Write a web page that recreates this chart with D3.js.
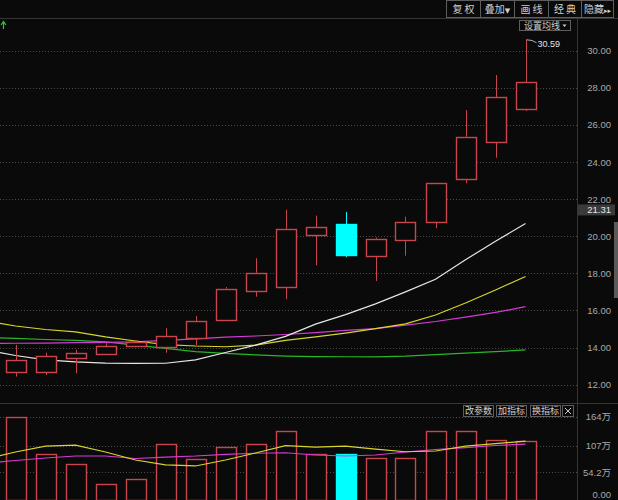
<!DOCTYPE html>
<html>
<head>
<meta charset="utf-8">
<script src="https://cdn.jsdelivr.net/npm/d3@7"></script>
<style>
  html, body { margin: 0; padding: 0; background: #0a0a0a; }
  svg { display: block; }
</style>
</head>
<body>
<svg id="chart" width="618" height="500"></svg>
<script>
// ---- data -------------------------------------------------------------
const sessions = [1, 2, 3, 4, 5, 6, 7, 8, 9, 10, 11, 12, 13, 14, 15, 16, 17, 18];
const openP  = [12.66, 12.66, 13.45, 13.63, 14.08, 14.01, 14.50, 15.48, 17.06, 17.28, 20.08, 20.66, 18.95, 19.81, 20.78, 23.08, 25.06, 26.87];
const highP  = [14.14, 13.72, 13.87, 14.23, 14.40, 15.04, 15.70, 17.26, 18.81, 21.42, 21.11, 21.31, 19.94, 21.05, 22.85, 26.80, 28.69, 30.59];
const lowP   = [12.43, 12.52, 12.61, 13.63, 14.03, 13.72, 14.13, 15.48, 16.74, 16.60, 18.43, 18.86, 17.58, 18.95, 20.43, 22.85, 24.23, 26.75];
const closeP = [13.33, 13.54, 13.69, 14.08, 14.28, 14.62, 15.43, 17.17, 18.03, 20.40, 20.48, 18.99, 19.87, 20.75, 22.85, 25.36, 27.49, 28.30];
const volume = [164, 90, 71.5, 31, 42, 111, 80, 105, 110, 136, 90, 90, 82, 82, 136, 136, 117.5, 116]; // 万

// moving averages include the session before the first candle (session 0)
const maSessions = [0, 1, 2, 3, 4, 5, 6, 7, 8, 9, 10, 11, 12, 13, 14, 15, 16, 17, 18];
const ma5  = [13.87, 13.57, 13.33, 13.22, 13.16, 13.14, 13.15, 13.33, 13.73, 14.13, 14.60, 15.26, 15.77, 16.35, 17.00, 17.68, 18.73, 19.73, 20.68];
const ma10 = [15.43, 15.16, 14.97, 14.84, 14.57, 14.35, 14.16, 14.08, 14.04, 14.13, 14.38, 14.57, 14.78, 15.02, 15.27, 15.75, 16.40, 17.10, 17.83];
const ma20 = [14.22, 14.23, 14.24, 14.26, 14.28, 14.30, 14.38, 14.46, 14.56, 14.62, 14.70, 14.80, 14.92, 15.02, 15.21, 15.40, 15.64, 15.89, 16.20];
const ma60 = [14.54, 14.49, 14.43, 14.38, 14.30, 14.13, 13.95, 13.78, 13.68, 13.60, 13.54, 13.51, 13.50, 13.50, 13.54, 13.62, 13.70, 13.78, 13.87];
const volMa5  = [81, 94.5, 106, 108, 94.5, 78.7, 69, 67, 78.7, 92.5, 107, 104, 106, 100, 95, 96.5, 106, 111, 116];
const volMa10 = [72.8, 77.8, 82.7, 86.6, 86.6, 81.7, 84.6, 86.6, 90, 92, 93, 88.6, 86.6, 88.6, 94.5, 99.4, 103.3, 107.3, 110.2];

const priceTicks = [12, 14, 16, 18, 20, 22, 24, 26, 28, 30];
const volTicks = [0, 54.2, 107, 164];
const volTickLabels = ["0.00", "54.2万", "107万", "164万"];
const toolbarLabels = [["复 权", ""], ["叠加", "▼"], ["画 线", ""], ["经 典", ""], ["隐藏", "▸▸"]];
const indicatorLabels = ["改参数", "加指标", "换指标"];
const maLabel = "设置均线";
const currentPrice = 21.31;

// ---- layout -----------------------------------------------------------
const W = 618, H = 500;
const plotRight = 577;
const mainTop = 18, mainBottom = 403;
const volTop = 404, volBottom = 500;

const C = {
  bg: "#0a0a0a",
  frame: "#353535",
  grid: "#4a4a4a",
  axisText: "#a9a9a9",
  up: "#c8464b",
  down: "#00ffff",
  ma5: "#e6e6e6",
  ma10: "#d6d62a",
  ma20: "#d63ad6",
  ma60: "#26b826",
  btnBorder: "#5e5e5e",
  btnText: "#cfcfcf"
};

const svg = d3.select("#chart");
svg.append("rect").attr("width", W).attr("height", H).attr("fill", C.bg);

const x = d3.scaleLinear().domain([1, 18]).range([15.5, 525.5]);
const candleW = 20;
const y = d3.scaleLinear().domain([12, 30]).range([384.6, 50.7]);
const yv = d3.scaleLinear().domain([0, 164]).range([500, 416.7]);

const defs = svg.append("defs");
defs.append("clipPath").attr("id", "clipMain")
  .append("rect").attr("x", 0).attr("y", mainTop).attr("width", plotRight).attr("height", mainBottom - mainTop);
defs.append("clipPath").attr("id", "clipVol")
  .append("rect").attr("x", 0).attr("y", volTop).attr("width", plotRight).attr("height", volBottom - volTop);

const crisp = v => Math.round(v) + 0.5;
const fmt2 = d3.format(".2f");

// ---- frame lines -------------------------------------------------------
svg.append("line").attr("x1", 0).attr("x2", W).attr("y1", mainTop + 0.5).attr("y2", mainTop + 0.5)
  .attr("stroke", C.frame);
svg.append("line").attr("x1", 0).attr("x2", W).attr("y1", mainBottom + 0.5).attr("y2", mainBottom + 0.5)
  .attr("stroke", C.frame);
svg.append("line").attr("x1", plotRight + 0.5).attr("x2", plotRight + 0.5).attr("y1", mainTop).attr("y2", H)
  .attr("stroke", C.frame);

// ---- price gridlines ---------------------------------------------------
svg.append("g").selectAll("line").data(priceTicks).join("line")
  .attr("x1", 0).attr("x2", plotRight)
  .attr("y1", d => crisp(y(d))).attr("y2", d => crisp(y(d)))
  .attr("stroke", C.grid).attr("stroke-dasharray", "1,2");

// ---- moving averages (price) -------------------------------------------
const main = svg.append("g").attr("clip-path", "url(#clipMain)");
const maLine = arr => d3.line().x((d, i) => x(maSessions[i])).y(d => y(d))(arr);
[[ma60, C.ma60], [ma20, C.ma20], [ma10, C.ma10], [ma5, C.ma5]].forEach(([arr, col]) => {
  main.append("path").attr("d", maLine(arr)).attr("fill", "none")
    .attr("stroke", col).attr("stroke-width", 1.2);
});

// ---- candles -----------------------------------------------------------
const candles = sessions.map((s, i) => ({
  s, o: openP[i], h: highP[i], l: lowP[i], c: closeP[i]
}));
const cg = main.append("g").selectAll("g").data(candles).join("g");
cg.each(function (d) {
  const g = d3.select(this);
  const up = d.c >= d.o;
  const col = up ? C.up : C.down;
  const cx = crisp(x(d.s));
  const top = y(Math.max(d.o, d.c)), bot = y(Math.min(d.o, d.c));
  const bx = Math.round(x(d.s) - candleW / 2) + 0.5;
  // wicks
  g.append("line").attr("x1", cx).attr("x2", cx).attr("y1", y(d.h)).attr("y2", top)
    .attr("stroke", col);
  g.append("line").attr("x1", cx).attr("x2", cx).attr("y1", bot).attr("y2", y(d.l))
    .attr("stroke", col);
  g.append("rect").attr("x", bx).attr("y", Math.round(top) + 0.5)
    .attr("width", candleW).attr("height", Math.max(1, Math.round(bot) - Math.round(top)))
    .attr("fill", up ? C.bg : C.down).attr("stroke", col).attr("stroke-width", 1.4);
});

// highest price marker
const last = candles[candles.length - 1];
const hx = x(last.s) + 1, hy = y(last.h);
svg.append("path").attr("d", `M${hx},${hy} Q${hx + 6},${hy} ${hx + 10},${hy + 3}`)
  .attr("fill", "none").attr("stroke", "#d8d8d8").attr("stroke-width", 0.8);
svg.append("text").attr("x", hx + 11).attr("y", hy + 7).text(fmt2(last.h))
  .attr("font-family", "Liberation Sans, Arial, sans-serif").attr("font-size", 9)
  .attr("fill", "#e2e2e2");

// ---- price axis --------------------------------------------------------
const yAxis = d3.axisLeft(y).tickValues(priceTicks).tickFormat(fmt2).tickSize(0).tickPadding(0);
const ya = svg.append("g").attr("transform", "translate(611,0)").call(yAxis);
ya.select(".domain").remove();
ya.selectAll("text").attr("fill", C.axisText)
  .attr("font-family", "Liberation Sans, Arial, sans-serif").attr("font-size", 9.5);

// current price tag (drawn over the axis labels)
const tagCy = y(currentPrice) - 2;
svg.append("rect").attr("x", 578).attr("y", tagCy - 5.5).attr("width", 37).attr("height", 11)
  .attr("fill", "#3a3a3a");
svg.append("text").attr("x", 611).attr("y", tagCy).attr("dy", "0.35em").attr("text-anchor", "end")
  .text(fmt2(currentPrice)).attr("fill", "#e8e8e8")
  .attr("font-family", "Liberation Sans, Arial, sans-serif").attr("font-size", 9.5);

// scroll handle at the right edge
svg.append("rect").attr("x", 614).attr("y", 222).attr("width", 4).attr("height", 76).attr("fill", "#5a5a5a");

// ---- volume panel -------------------------------------------------------
svg.append("g").selectAll("line").data(volTicks.filter(v => v > 0)).join("line")
  .attr("x1", 0).attr("x2", plotRight)
  .attr("y1", d => crisp(yv(d))).attr("y2", d => crisp(yv(d)))
  .attr("stroke", C.grid).attr("stroke-dasharray", "1,2");

const vol = svg.append("g").attr("clip-path", "url(#clipVol)");
vol.selectAll("rect").data(candles).join("rect")
  .attr("x", d => Math.round(x(d.s) - candleW / 2) + 0.5)
  .attr("y", (d, i) => Math.round(yv(volume[i])) + 0.5)
  .attr("width", candleW)
  .attr("height", (d, i) => 500 - Math.round(yv(volume[i])))
  .attr("fill", d => d.c >= d.o ? C.bg : C.down)
  .attr("stroke", d => d.c >= d.o ? C.up : C.down)
  .attr("stroke-width", 1.4);

const vLine = arr => d3.line().x((d, i) => x(maSessions[i])).y(d => yv(d))(arr);
vol.append("path").attr("d", vLine(volMa10)).attr("fill", "none").attr("stroke", C.ma20).attr("stroke-width", 1.2);
vol.append("path").attr("d", vLine(volMa5)).attr("fill", "none").attr("stroke", C.ma10).attr("stroke-width", 1.2);

svg.append("g").selectAll("text").data(volTicks).join("text")
  .attr("x", 611).attr("y", d => Math.min(yv(d), 495)).attr("dy", "0.35em")
  .attr("text-anchor", "end").text((d, i) => volTickLabels[i])
  .attr("fill", C.axisText).attr("font-size", 9.5)
  .attr("font-family", "Liberation Sans, 'Noto Sans CJK SC', sans-serif");

// indicator buttons
const indX = [463.5, 496.5, 530.5];
const indW = [30, 30, 30];
const ig = svg.append("g");
indicatorLabels.forEach((t, i) => {
  ig.append("rect").attr("x", indX[i]).attr("y", 405.5).attr("width", indW[i]).attr("height", 11)
    .attr("fill", "none").attr("stroke", C.btnBorder);
  ig.append("text").attr("x", indX[i] + indW[i] / 2).attr("y", 411).attr("dy", "0.35em")
    .attr("text-anchor", "middle").text(t).attr("fill", C.btnText)
    .attr("font-family", "Noto Sans CJK SC, sans-serif").attr("font-size", 9);
});
ig.append("rect").attr("x", 562.5).attr("y", 405.5).attr("width", 11).attr("height", 11)
  .attr("fill", "none").attr("stroke", C.btnBorder);
ig.append("path").attr("d", "M565,408 L571,414 M571,408 L565,414").attr("stroke", C.btnText);

// ---- toolbar ------------------------------------------------------------
const tbX = [446.5, 480.5, 514.5, 548.5, 581.5];
const tbW = [34, 34, 34, 33, 32];
toolbarLabels.forEach(([t, mark], i) => {
  svg.append("rect").attr("x", tbX[i]).attr("y", 0.5).attr("width", tbW[i]).attr("height", 17)
    .attr("fill", C.bg).attr("stroke", C.btnBorder);
  const tx = svg.append("text").attr("x", tbX[i] + tbW[i] / 2).attr("y", 9).attr("dy", "0.35em")
    .attr("text-anchor", "middle").attr("fill", C.btnText)
    .attr("font-family", "Noto Sans CJK SC, sans-serif").attr("font-size", 10);
  tx.append("tspan").text(t);
  if (mark) tx.append("tspan").text(mark).attr("font-size", 7).attr("font-family", "DejaVu Sans, sans-serif");
});

// moving-average settings button
svg.append("rect").attr("x", 519.5).attr("y", 20.5).attr("width", 51).attr("height", 10)
  .attr("fill", C.bg).attr("stroke", C.btnBorder);
const ms = svg.append("text").attr("x", 542).attr("y", 25.5).attr("dy", "0.35em").attr("text-anchor", "middle")
  .attr("fill", C.btnText).attr("font-family", "Noto Sans CJK SC, sans-serif").attr("font-size", 9);
ms.text(maLabel);
svg.append("path").attr("d", "M562.5,24.5 L566.5,24.5 L564.5,27 Z").attr("fill", C.btnText);

// small green arrow at top-left
svg.append("path").attr("d", "M3.5,29 L3.5,22 M1,25 L3.5,21.5 L6,25")
  .attr("fill", "none").attr("stroke", "#1fd21f").attr("stroke-width", 1.2);
</script>
</body>
</html>
